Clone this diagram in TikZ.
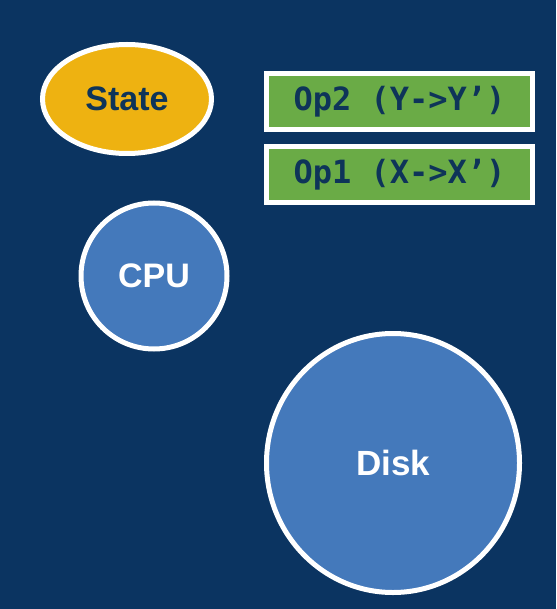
\documentclass[tikz,border=0pt]{standalone}
\usepackage{fontspec}
\setmainfont{Liberation Sans}
\newfontfamily\opmono{DejaVu Sans Mono}
\usetikzlibrary{shapes.geometric}
\definecolor{bgblue}{HTML}{0B3461}
\definecolor{gold}{HTML}{EEB211}
\definecolor{navy}{HTML}{0E3459}
\definecolor{opgreen}{HTML}{6AAB46}
\definecolor{diskblue}{HTML}{4479BB}
\tikzset{
  bubble/.style={draw=white, line width=5pt, inner sep=0pt, font=\bfseries},
  opbox/.style={draw=white, line width=5pt, fill=opgreen, rectangle,
    minimum width=266pt, minimum height=56pt, inner sep=0pt,
    text=navy, font=\opmono\bfseries\fontsize{32}{36}\selectfont},
}
\begin{document}
\begin{tikzpicture}[x=1pt,y=-1pt]
\fill[bgblue] (0,0) rectangle (556,609);
\useasboundingbox (0,0) rectangle (556,609);
\node[bubble, ellipse, fill=gold, text=navy, minimum width=169pt, minimum height=109pt,
  font=\bfseries\fontsize{34}{38}\selectfont] (state) at (127,99) {State};
\node[opbox] (op2) at (399.5,101.5) {Op2 (Y->Y’)};
\node[opbox] (op1) at (399.5,175) {Op1 (X->X’)};
\node[bubble, circle, fill=diskblue, text=white, minimum size=146pt,
  font=\bfseries\fontsize{34}{38}\selectfont] (cpu) at (154,276) {CPU};
\node[bubble, ellipse, fill=diskblue, text=white, minimum width=253pt, minimum height=259pt,
  font=\bfseries\fontsize{35}{40}\selectfont] (disk) at (393,463) {Disk};
\end{tikzpicture}
\end{document}
